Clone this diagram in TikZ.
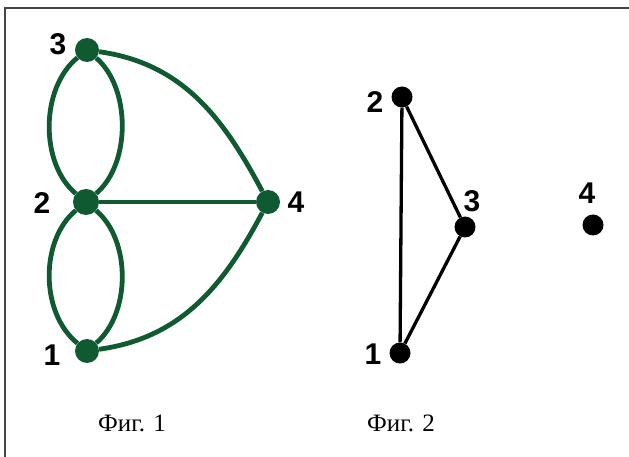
\documentclass[tikz,border=0pt]{standalone}
\usepackage{fontspec}
\setmainfont{Liberation Serif}
\newfontfamily\labfont{Liberation Sans}
\definecolor{gdark}{RGB}{16,90,50}
\definecolor{framec}{RGB}{70,70,70}
\begin{document}
\begin{tikzpicture}[x=1pt,y=-1pt,
  gvert/.style={circle,fill=gdark,inner sep=0pt,minimum size=24pt},
  bvert/.style={circle,fill=black,inner sep=0pt,minimum size=21pt},
  gedge/.style={draw=gdark,line width=4.8pt},
  bedge/.style={draw=black,line width=3.3pt},
  numlab/.style={font=\labfont\bfseries\fontsize{30}{30}\selectfont,inner sep=0pt},
  caption/.style={font=\fontsize{25}{25}\selectfont,inner sep=0pt}]
\useasboundingbox (0,0) rectangle (629,457);
\fill[white] (0,0) rectangle (629,457);
\coordinate (tl) at (5,8);
\coordinate (tr) at (629,8);
\coordinate (bl) at (5,457);
\draw[framec,line width=2pt] (bl) -- (tl) -- (tr);
% Fig 1
\node[gvert] (a3) at (87,50) {};
\node[gvert,minimum size=26pt] (a2) at (86,202) {};
\node[gvert] (a1) at (87,351) {};
\node[gvert] (a4) at (268,202) {};
\draw[gedge] (a3) .. controls (40,88) and (40,164) .. (a2);
\draw[gedge] (a3) .. controls (131,88) and (131,164) .. (a2);
\draw[gedge] (a2) .. controls (40,240) and (40,313) .. (a1);
\draw[gedge] (a2) .. controls (131,240) and (131,313) .. (a1);
\draw[gedge] (a2) -- (a4);
\draw[gedge] (a3) to[out=-8,in=118] (a4);
\draw[gedge] (a1) to[out=8,in=-118] (a4);
\node[numlab] (l3) at (58,44) {3};
\node[numlab] (l2) at (42,203) {2};
\node[numlab] (l1) at (52,355) {1};
\node[numlab] (l4) at (296,202) {4};
% Fig 2
\node[bvert] (b2) at (402,97) {};
\node[bvert] (b3) at (465,227) {};
\node[bvert] (b1) at (400,353) {};
\node[bvert] (b4) at (593,225) {};
\draw[bedge] (b2) -- (b1);
\draw[bedge] (b2) -- (b3);
\draw[bedge] (b3) -- (b1);
\node[numlab] (m2) at (375,102) {2};
\node[numlab] (m3) at (472,201) {3};
\node[numlab] (m1) at (373,354) {1};
\node[numlab] (m4) at (587,193) {4};
% captions
\node[caption] (c1) at (132,423) {Фиг. 1};
\node[caption] (c2) at (401,423) {Фиг. 2};
\end{tikzpicture}
\end{document}
